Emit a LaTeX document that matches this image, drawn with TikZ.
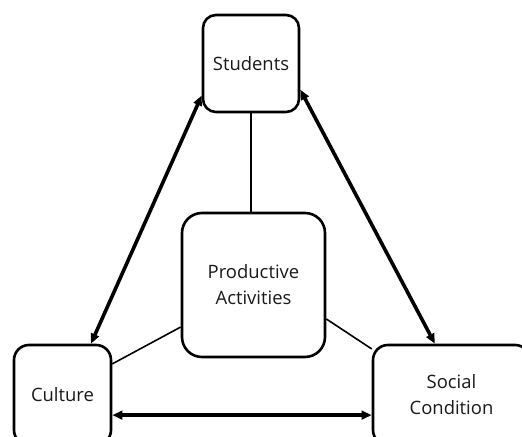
\documentclass[tikz,border=0pt]{standalone}
\usepackage{fontspec}
\setmainfont{Open Sans}
\usetikzlibrary{arrows.meta,positioning}

\begin{document}
\begin{tikzpicture}[x=1bp,y=1bp,font=\fontsize{18.5}{26}\selectfont,
    box/.style={draw,line width=2.6bp,rounded corners=13bp,align=center,inner sep=0pt,text=black!90},
    link/.style={line width=1.6bp},
    both/.style={line width=3.6bp,{Triangle[length=10bp,width=8.5bp]}-{Triangle[length=10bp,width=8.5bp]}}]
    \useasboundingbox (0,0) rectangle (522,437);

    \node[box,minimum width=96bp,minimum height=97bp] (students) at (251,373.5) {Students};
    \node[box,minimum width=143bp,minimum height=144bp,rounded corners=20bp] (prod) at (253.5,152) {Productive\\Activities};
    \node[box,minimum width=97bp,minimum height=100bp,rounded corners=15bp] (culture) at (62.5,42) {Culture};
    \node[box,minimum width=157bp,minimum height=100bp,rounded corners=15bp] (social) at (451.5,42) {Social\\Condition};

    % thin links to the centre box
    \draw[link] (students.south) -- (students.south |- prod.north);
    \draw[link] (prod.210) -- (culture.32);
    \draw[link] (prod.-25) -- (social.150);

    % double arrows round the triangle
    \draw[both] (students.213) -- (culture.61);
    \draw[both] (students.-28) -- (social.108);
    \draw[both] (culture.-22) -- (culture.-22 -| social.west);
\end{tikzpicture}
\end{document}
